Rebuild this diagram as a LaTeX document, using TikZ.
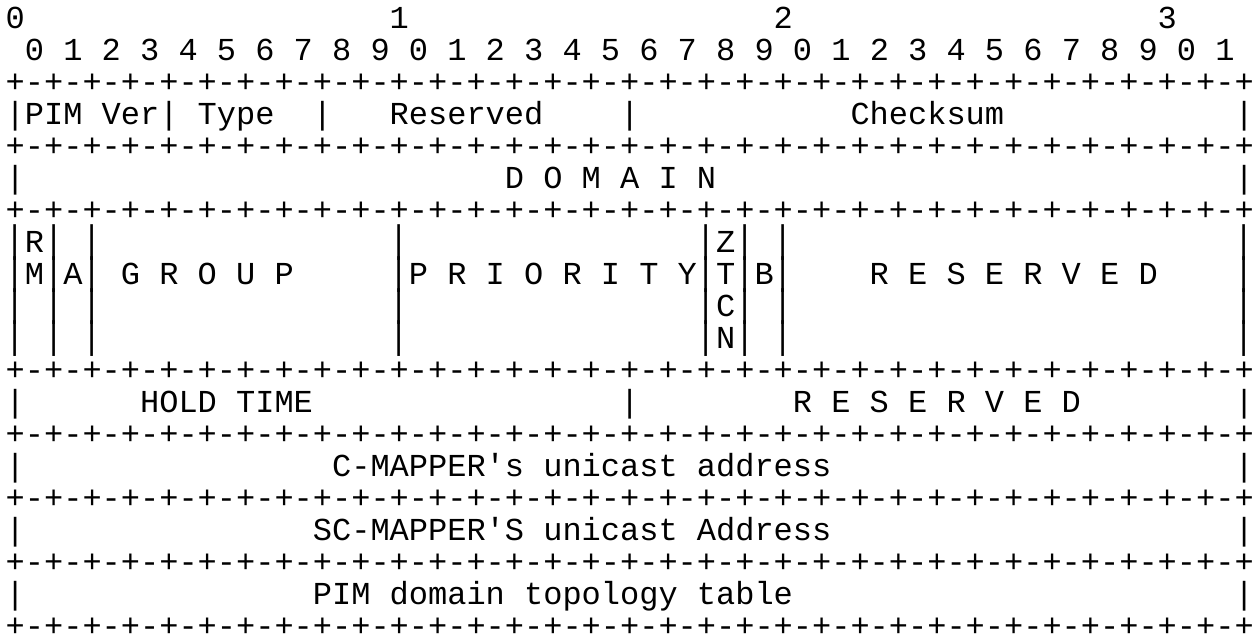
\documentclass[tikz,border=0pt]{standalone}
\usepackage{fontspec,graphicx}
\setmonofont{Liberation Mono}
\tikzset{ascii/.style={anchor=base west,inner sep=0pt,outer sep=0pt,font=\ttfamily\fontsize{32}{32}\selectfont}}
\newcommand\vbar{\scalebox{1}[1.2]{|}}

\begin{document}
\begin{tikzpicture}[x=19.2pt,y=32pt]
\useasboundingbox (-5.7pt,28.5pt) rectangle (1251.3pt,-610.5pt);
\foreach \c/\t in {0/0,20/1,40/2,60/3}{\node[ascii] (dec\t) at (\c,0) {\t};}
\node[ascii] (bits) at (1,-1) {0 1 2 3 4 5 6 7 8 9 0 1 2 3 4 5 6 7 8 9 0 1 2 3 4 5 6 7 8 9 0 1};
\foreach \r in {2,4,6,11,13,15,17,19}{\node[ascii] (sep\r) at (0,-\r) {+-+-+-+-+-+-+-+-+-+-+-+-+-+-+-+-+-+-+-+-+-+-+-+-+-+-+-+-+-+-+-+-+};}
\foreach \c/\r in {0/3,8/3,16/3,32/3,64/3,0/5,64/5,0/12,32/12,64/12,0/14,64/14,0/16,64/16,0/18,64/18}{\node[ascii] (bar\c-\r) at (\c,-\r) {|};}
\foreach \r in {7,...,10}{\foreach \c in {0,2,4,20,36,38,40,64}{\node[ascii] (bar\c-\r) at (\c,-\r) {\vbar};}}
\node[ascii] (ver) at (1,-3) {PIM Ver};
\node[ascii] (type) at (10,-3) {Type};
\node[ascii] (rsv) at (20,-3) {Reserved};
\node[ascii] (cks) at (44,-3) {Checksum};
\node[ascii] (dom) at (26,-5) {D O M A I N};
\node[ascii] (r) at (1,-7) {R};\node[ascii] (m) at (1,-8) {M};\node[ascii] (a) at (3,-8) {A};
\node[ascii] (grp) at (6,-8) {G R O U P};
\node[ascii] (prio) at (21,-8) {P R I O R I T Y};
\foreach \t [count=\i from 7] in {Z,T,C,N}{\node[ascii] (ztcn\i) at (37,-\i) {\t};}
\node[ascii] (b) at (39,-8) {B};
\node[ascii] (rsvd1) at (45,-8) {R E S E R V E D};
\node[ascii] (hold) at (7,-12) {HOLD TIME};
\node[ascii] (rsvd2) at (41,-12) {R E S E R V E D};
\node[ascii] (cmap) at (17,-14) {C-MAPPER's unicast address};
\node[ascii] (scmap) at (16,-16) {SC-MAPPER'S unicast Address};
\node[ascii] (topo) at (16,-18) {PIM domain topology table};
\end{tikzpicture}
\end{document}
